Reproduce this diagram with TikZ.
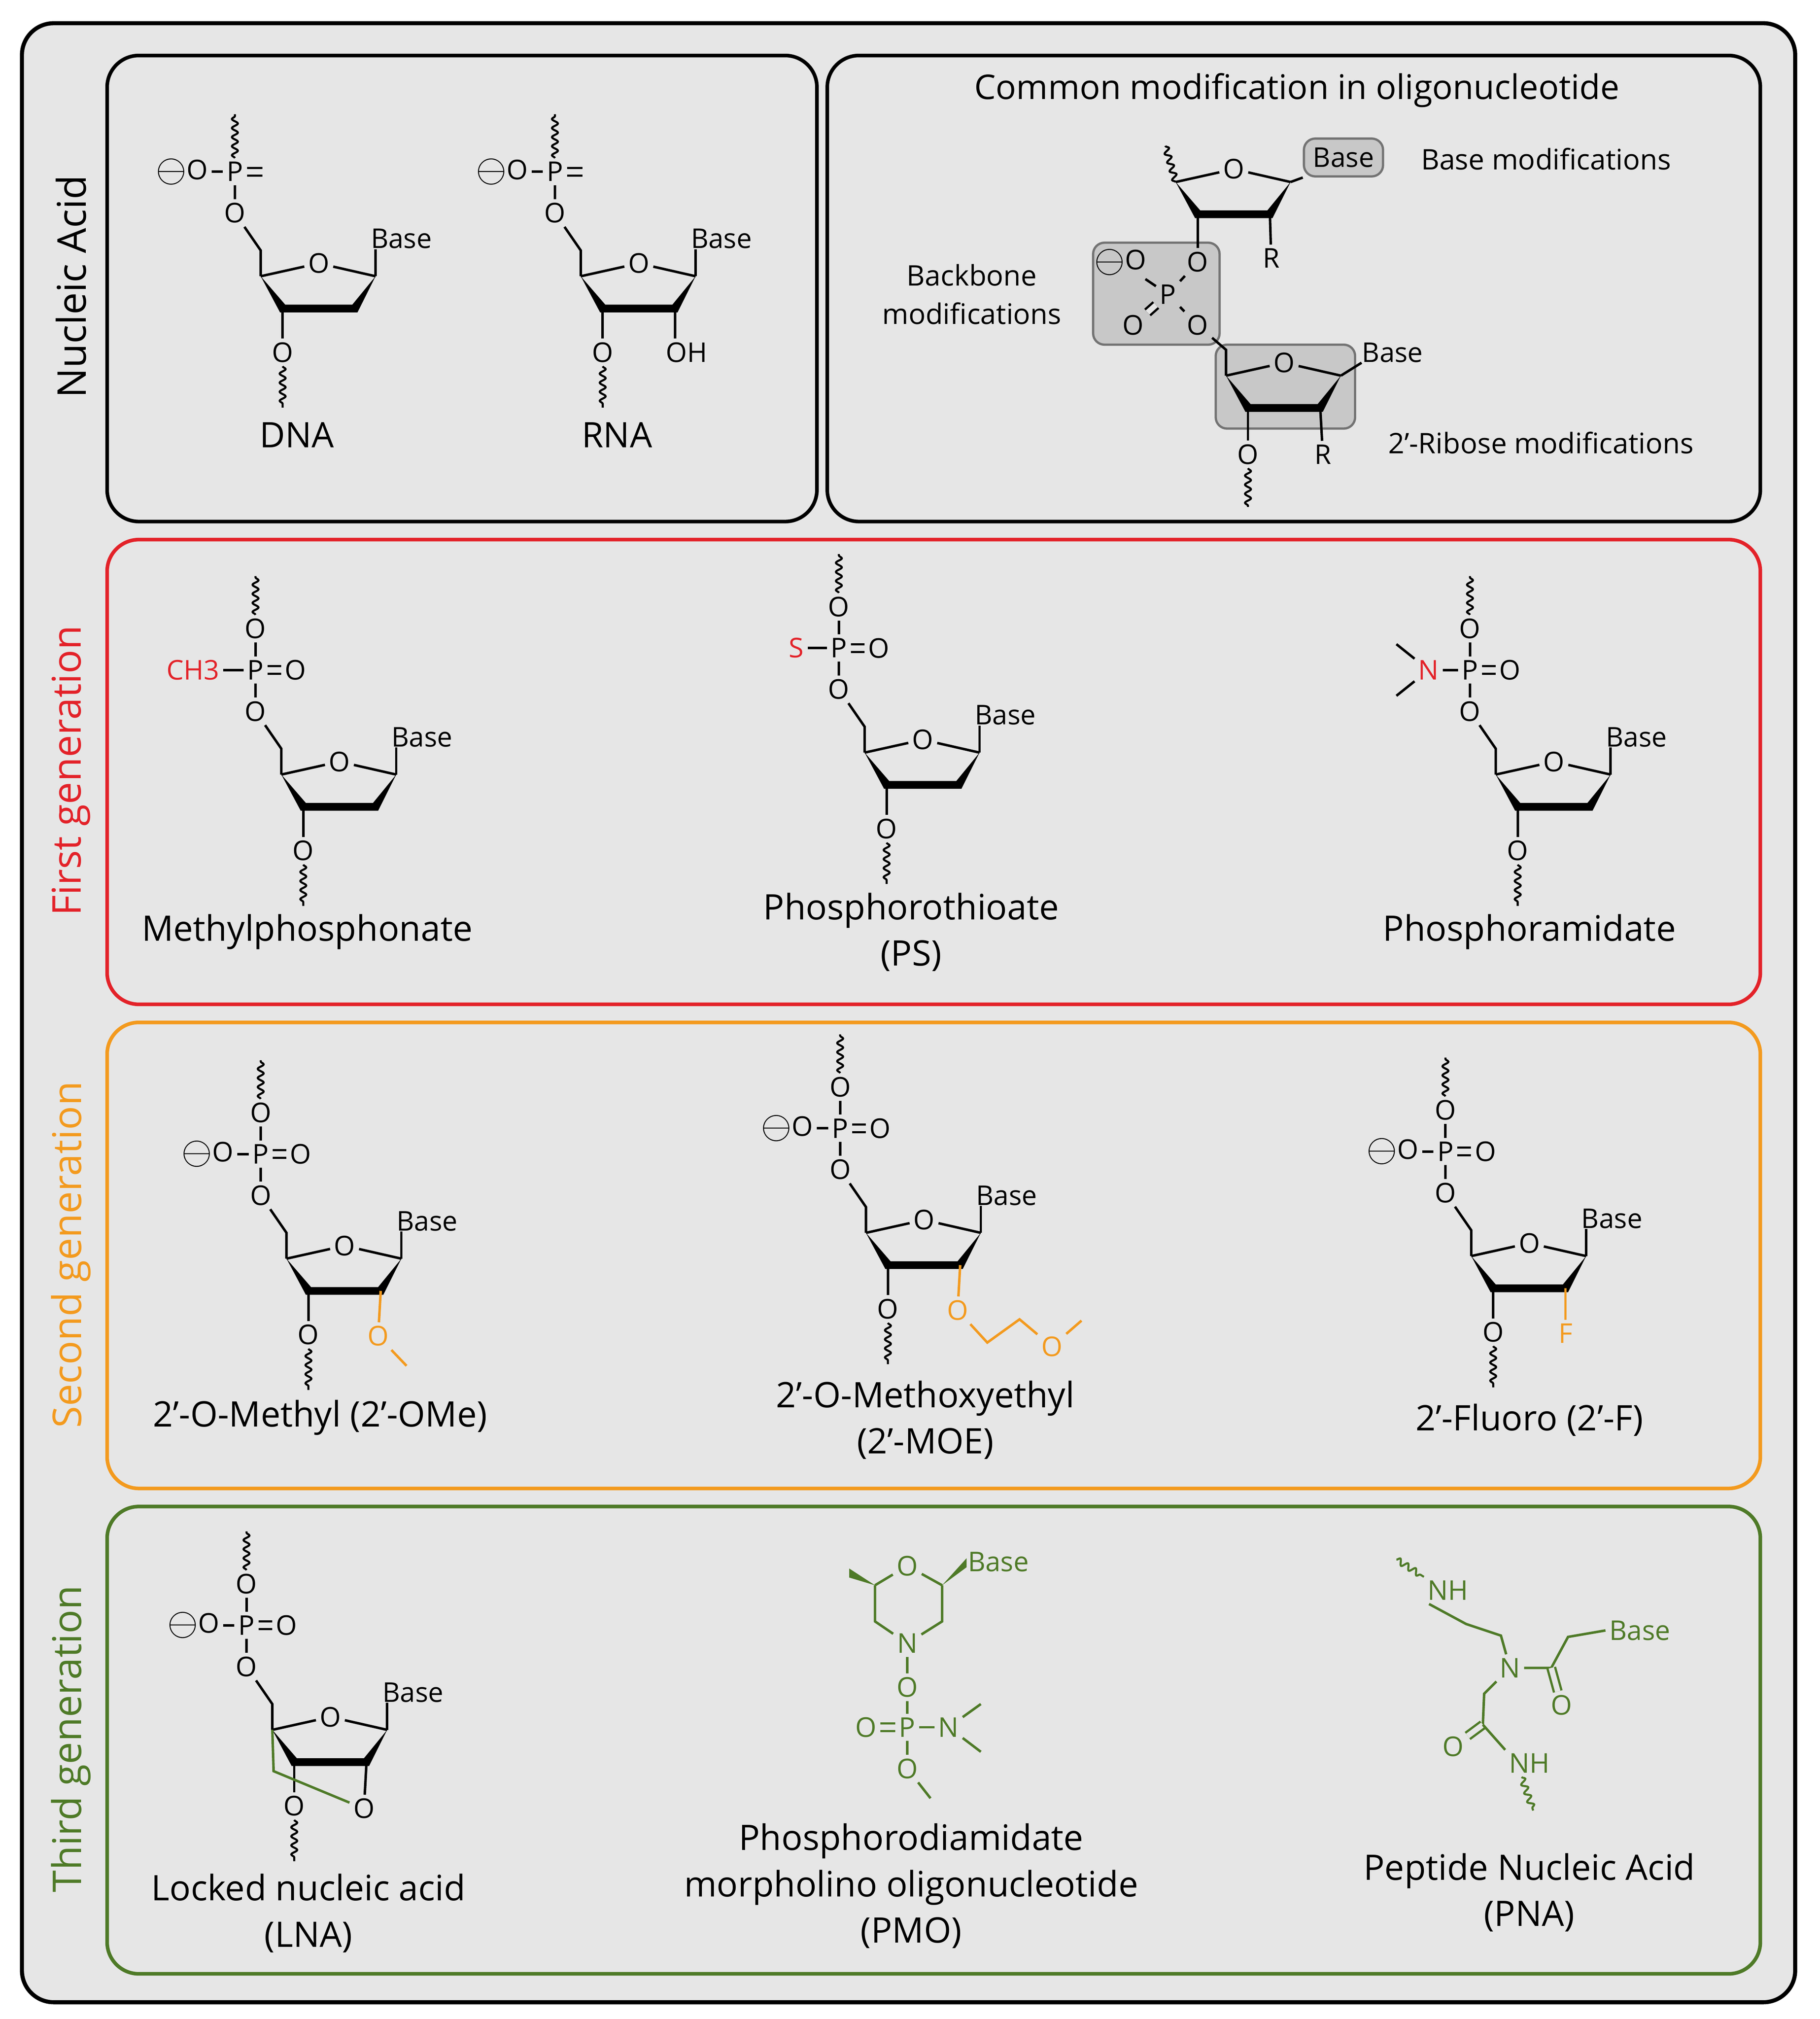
\documentclass[tikz,border=0pt]{standalone}
\usepackage{fontspec}
\setmainfont{Open Sans}
\usetikzlibrary{calc,positioning,decorations.pathmorphing}
\definecolor{panelgray}{HTML}{E6E6E6}
\definecolor{hiliteg}{HTML}{C8C8C8}
\definecolor{genred}{HTML}{E32229}
\definecolor{genorange}{HTML}{F39A1E}
\definecolor{gengreen}{HTML}{4E7A27}
\newcommand{\atomfont}{\fontsize{12}{14}\selectfont}
\newcommand{\lblfont}{\fontsize{15.5}{20.4}\selectfont}
\newcommand{\minus}{\raisebox{-0.15ex}{\scalebox{1.45}{$\ominus$}}}
\tikzset{
  atom/.style={inner sep=1.5pt,font=\atomfont},
  bond/.style={line width=1.1pt},
  dbond/.style={line width=1pt,double=panelgray,double distance=2.4pt},
  wave/.style={line width=0.9pt,decorate,decoration={snake,amplitude=1.3pt,segment length=4pt}},
  panel/.style={rounded corners=14pt,line width=1.6pt},
  hibox/.style={rounded corners=5pt,fill=hiliteg,draw=black!55,line width=1pt},
  lbl/.style={font=\lblfont,align=center},
  side/.style={font=\fontsize{17.5}{20}\selectfont,rotate=90}
}
% furanose ring, #2,#3 = ring oxygen
\newcommand{\sugarring}[3]{%
  \begin{scope}[shift={(#2,#3)}]
    \node[atom] (#1o4) at (0,0) {O};
    \coordinate (#1c4) at (-45,10);
    \coordinate (#1c3) at (-28,35);
    \coordinate (#1c2) at (28,35);
    \coordinate (#1c1) at (44,10);
  \end{scope}
  \draw[bond] (#1c4) -- (#1o4) -- (#1c1);
  \fill (#1c4) -- ($(#1c3)+(-2,3)$) -- ($(#1c2)+(2,3)$) -- (#1c1)
    -- ($(#1c2)+(-2,-3)$) -- ($(#1c3)+(2,-3)$) -- cycle;
}
% 5'-CH2-O-P, 3'-O and base
\newcommand{\backbone}[1]{%
  \coordinate (#1c5) at ($(#1c4)+(0,-20)$);
  \node[atom] (#1o5) at ($(#1o4)+(-65,-39)$) {O};
  \node[atom] (#1p) at ($(#1o4)+(-65,-71)$) {P};
  \node[atom] (#1o3) at ($(#1o4)+(-28,69)$) {O};
  \node[atom,anchor=south west,inner sep=0pt] (#1base) at ($(#1o4)+(40,-11)$) {Base};
  \draw[bond] (#1c4) -- (#1c5) -- (#1o5) -- (#1p);
  \draw[bond] (#1c1) -- (#1c1 |- #1base.south);
  \draw[bond] (#1c3) -- (#1o3);
  \draw[wave] (#1o3.south) -- ++(0,32);
}
\newcommand{\topO}[1]{%
  \node[atom] (#1ot) at ($(#1p)+(0,-32)$) {O};
  \draw[bond] (#1p) -- (#1ot);
  \draw[wave] (#1ot.north) -- ++(0,-30);
}
\newcommand{\rightO}[1]{%
  \node[atom] (#1or) at ($(#1p)+(31,0)$) {O};
  \draw[dbond] (#1p) -- (#1or);
}
\newcommand{\leftO}[1]{%
  \node[atom,anchor=east] (#1ol) at ($(#1p)+(-18,0)$) {\minus O};
  \draw[bond] (#1ol) -- (#1p);
}
\begin{document}
\begin{tikzpicture}[x=0.02cm,y=-0.02cm]
\useasboundingbox (0,0) rectangle (1410,1564);
%panels
\draw[panel,line width=1.8pt,fill=panelgray] (17,18) rectangle (1391,1551);
\draw[panel] (83,43) rectangle (633,404);
\draw[panel] (641,43) rectangle (1364,404);
\draw[panel,genred] (83,418) rectangle (1364,778);
\draw[panel,genorange] (83,792) rectangle (1364,1153);
\draw[panel,gengreen] (83,1167) rectangle (1364,1529);
%side labels
\node[side] (nucl) at (55,222) {Nucleic Acid};
\node[side,genred] (gen1) at (55,597) {First generation};
\node[side,genorange] (gen2) at (55,972) {Second generation};
\node[side,gengreen] (gen3) at (55,1347) {Third generation};

%DNA
\sugarring{dna}{247}{204}
\backbone{dna}
\draw[wave] (dnap.north) -- ++(0,-34);
\draw[dbond] (dnap.east) -- ++(12,0);
\leftO{dna}
\node[lbl] (dnalbl) at (230,337) {DNA};
%RNA
\sugarring{rna}{495}{204}
\backbone{rna}
\draw[wave] (rnap.north) -- ++(0,-34);
\draw[dbond] (rnap.east) -- ++(12,0);
\leftO{rna}
\node[atom] (rnaoh) at ($(rnao4)+(37,69)$) {OH};
\draw[bond] (rnac2) -- (rnac2 |- rnaoh.north);
\node[lbl] (rnalbl) at (478,337) {RNA};

%common modifications
\node[font=\fontsize{15}{18}\selectfont] (title) at (1005,70) {Common modification in oligonucleotide};
\draw[hibox] (847,188) rectangle (945,267);
\draw[hibox] (942,267) rectangle (1050,332);
\sugarring{ua}{956}{131}
\sugarring{ub}{995}{281}
\draw[wave] (uac4) -- ++(-8,-28);
\node[atom,hibox,inner sep=4pt] (uabase) at (1041,122) {Base};
\draw[bond] (uac1) -- (uabase.south west);
\node[atom] (uar) at (985,200) {R};
\draw[bond] (uac2) -- (uar);
\node[atom] (uao3) at (928,203) {O};
\draw[bond] (uac3) -- (uao3);
\node[atom] (pp) at (905,228) {P};
\node[atom] (ppl) at (868,203) {\minus O};
\node[atom] (ppd) at (878,252) {O};
\node[atom] (ppr) at (928,252) {O};
\draw[bond] (pp) -- (uao3);
\draw[bond] (pp) -- (ppl);
\draw[dbond] (pp) -- (ppd);
\draw[bond] (pp) -- (ppr);
\draw[bond] (ppr) -- ($(ubc4)+(0,-20)$) -- (ubc4);
\node[atom,anchor=south west,inner sep=0pt] (ubbase) at (1055,281) {Base};
\draw[bond] (ubc1) -- (ubbase.south west);
\node[atom] (ubr) at (1025,352) {R};
\draw[bond] (ubc2) -- (ubr);
\node[atom] (ubo3) at (967,352) {O};
\draw[bond] (ubc3) -- (ubo3);
\draw[wave] (ubo3.south) -- ++(0,30);
\node[atom,align=center,font=\fontsize{12.5}{17}\selectfont] (bbmod) at (753,228) {Backbone\\modifications};
\node[atom,font=\fontsize{12.5}{15}\selectfont] (basemod) at (1198,123) {Base modifications};
\node[atom,font=\fontsize{12.5}{15}\selectfont] (ribmod) at (1194,343) {2’-Ribose modifications};

%first generation
\sugarring{mp}{263}{590}
\backbone{mp}
\topO{mp}
\rightO{mp}
\node[atom,anchor=east,genred] (mpch) at ($(mpp)+(-25,0)$) {CH3};
\draw[bond] (mpch) -- (mpp);
\node[lbl] (mplbl) at (238,722) {Methylphosphonate};

\sugarring{ps}{715}{573}
\backbone{ps}
\topO{ps}
\rightO{ps}
\node[atom,genred] (pss) at ($(psp)+(-33,0)$) {S};
\draw[bond] (pss) -- (psp);
\node[lbl] (pslbl) at (706,722) {Phosphorothioate\\(PS)};

\sugarring{pa}{1204}{590}
\backbone{pa}
\topO{pa}
\rightO{pa}
\node[atom,genred] (pan) at ($(pap)+(-32,0)$) {N};
\draw[bond] (pan) -- (pap);
\draw[bond] (pan) -- ++(-25,-20);
\draw[bond] (pan) -- ++(-25,20);
\node[lbl] (palbl) at (1185,722) {Phosphoramidate};

%second generation
\sugarring{ome}{267}{965}
\backbone{ome}
\topO{ome}
\rightO{ome}
\leftO{ome}
\begin{scope}[genorange]
  \node[atom] (omeo2) at ($(omeo4)+(26,70)$) {O};
  \draw[bond] (omec2) -- (omeo2);
  \draw[bond] (omeo2) -- ++(22,23);
\end{scope}
\node[lbl] (omelbl) at (248,1098) {2’-O-Methyl (2’-OMe)};

\sugarring{moe}{716}{945}
\backbone{moe}
\topO{moe}
\rightO{moe}
\leftO{moe}
\begin{scope}[genorange]
  \node[atom] (moeo2) at ($(moeo4)+(26,70)$) {O};
  \node[atom] (moeo7) at ($(moeo4)+(99,98)$) {O};
  \draw[bond] (moec2) -- (moeo2);
  \draw[bond] (moeo2) -- ($(moeo4)+(49,95)$) -- ($(moeo4)+(74,77)$) -- (moeo7);
  \draw[bond] (moeo7) -- ($(moeo4)+(122,78)$);
\end{scope}
\node[lbl] (moelbl) at (717,1100) {2’-O-Methoxyethyl\\(2’-MOE)};

\sugarring{fl}{1185}{963}
\backbone{fl}
\topO{fl}
\rightO{fl}
\leftO{fl}
\node[atom,genorange] (flf) at ($(flo4)+(28,70)$) {F};
\draw[bond,genorange] (flc2) -- (flf);
\node[lbl] (fllbl) at (1185,1100) {2’-Fluoro (2’-F)};

%third generation
\sugarring{lna}{256}{1330}
\backbone{lna}
\topO{lna}
\rightO{lna}
\leftO{lna}
\node[atom] (lnao2) at ($(lnao4)+(26,71)$) {O};
\draw[bond,gengreen] (lnac4) -- ($(lnao4)+(-44,42)$) -- (lnao2);
\draw[bond] (lnac2) -- (lnao2);
\node[lbl] (lnalbl) at (239,1482) {Locked nucleic acid\\(LNA)};

\begin{scope}[gengreen]
  \node[atom] (pmoo) at (703,1213) {O};
  \coordinate (pmotl) at (678,1228);
  \coordinate (pmobl) at (678,1256);
  \coordinate (pmobr) at (730,1256);
  \coordinate (pmotr) at (730,1228);
  \node[atom] (pmon) at (703,1273) {N};
  \draw[bond] (pmotl) -- (pmoo) -- (pmotr);
  \draw[bond] (pmotl) -- (pmobl) -- (pmon) -- (pmobr) -- (pmotr);
  \node[atom,anchor=west] (pmobase) at (747,1210) {Base};
  \fill (pmotr) -- (749,1207) -- (749,1214) -- cycle;
  \fill (pmotl) -- (658,1215) -- (658,1222) -- cycle;
  \node[atom] (pmoo5) at (703,1307) {O};
  \node[atom] (pmop) at (703,1338) {P};
  \node[atom] (pmood) at (671,1338) {O};
  \node[atom] (pmonm) at (735,1338) {N};
  \node[atom] (pmoo3) at (703,1370) {O};
  \draw[bond] (pmon) -- (pmoo5) -- (pmop) -- (pmoo3) -- ++(18,23);
  \draw[dbond] (pmop) -- (pmood);
  \draw[bond] (pmop) -- (pmonm);
  \draw[bond] (pmonm) -- ++(25,-18);
  \draw[bond] (pmonm) -- ++(25,19);
\end{scope}
\node[lbl] (pmolbl) at (706,1461) {Phosphorodiamidate\\morpholino oligonucleotide\\(PMO)};

\begin{scope}[gengreen]
  \node[atom] (pnanh) at (1122,1232) {NH};
  \node[atom] (pnan) at (1170,1292) {N};
  \node[atom] (pnao) at (1210,1321) {O};
  \node[atom] (pnaol) at (1126,1353) {O};
  \node[atom] (pnanh2) at (1185,1366) {NH};
  \node[atom,anchor=west] (pnabase) at (1244,1263) {Base};
  \coordinate (pnac1) at (1202,1292);
  \coordinate (pnac2) at (1149,1336);
  \draw[wave] (1082,1208) -- (pnanh.north west);
  \draw[bond] (pnanh.south west) ++(4,0) -- (1136,1258) -- (1163,1267) -- (pnan);
  \draw[bond] (pnan) -- (pnac1) -- (1215,1268) -- (pnabase.west);
  \draw[dbond] (pnac1) -- (pnao);
  \draw[bond] (pnan) -- (1150,1312) -- (pnac2);
  \draw[dbond] (pnac2) -- (pnaol);
  \draw[bond] (pnac2) -- (pnanh2.north west);
  \draw[wave] (pnanh2.south) ++(-6,0) -- ++(9,26);
\end{scope}
\node[lbl] (pnalbl) at (1185,1466) {Peptide Nucleic Acid\\(PNA)};
\end{tikzpicture}
\end{document}
